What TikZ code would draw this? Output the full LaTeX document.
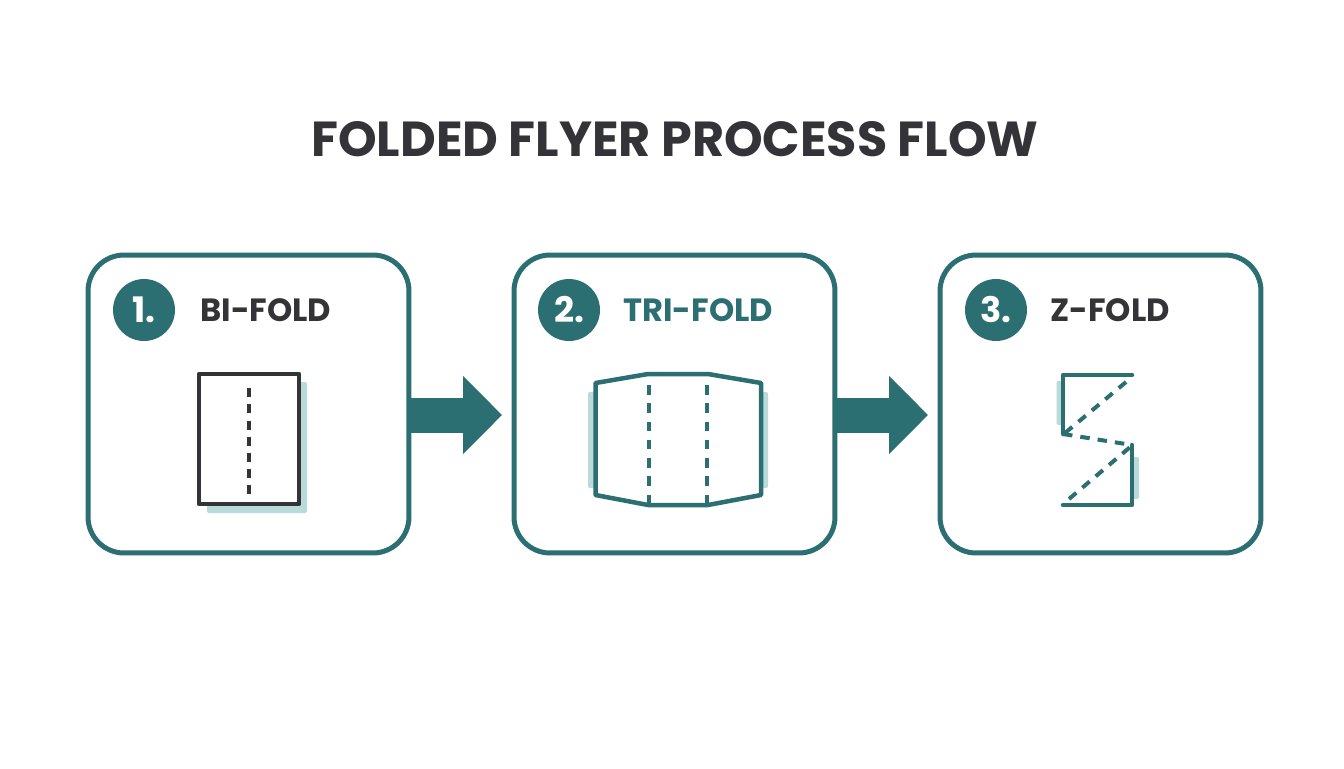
\documentclass[tikz,border=0pt]{standalone}
\usepackage{fontspec}
\setmainfont{Poppins}
\usetikzlibrary{arrows.meta}
\definecolor{tealmain}{HTML}{2C6F72}
\definecolor{tealpale}{HTML}{B9DAD8}
\definecolor{inkdark}{HTML}{333338}
\tikzset{
  cardbox/.style={draw=tealmain,line width=.1cm,rounded corners=.72cm,minimum width=6.42cm,minimum height=5.96cm},
  numdisc/.style={circle,fill=tealmain,text=white,minimum size=1.24cm,inner sep=0pt,font=\fontsize{20}{20}\selectfont\bfseries},
  cardlabel/.style={anchor=west,inner sep=0pt,font=\fontsize{18.3}{22}\selectfont\bfseries},
  flowarrow/.style={tealmain,line width=.7cm,-{Triangle[length=.78cm,width=1.52cm]},shorten >=.19cm},
  foldline/.style={line width=.09cm,line join=round,line cap=round},
  foldcrease/.style={line width=.08cm,dash pattern=on .18cm off .145cm},
  foldshade/.style={fill=tealpale,rounded corners=.04cm}
}
\begin{document}
\begin{tikzpicture}[x=.02cm,y=-.02cm]
        \useasboundingbox[fill=white] (0,0) rectangle (1344,768);
        \node[inkdark,inner sep=0pt,font=\fontsize{28}{32}\selectfont\bfseries] (title) at (675,139) {FOLDED FLYER PROCESS FLOW};
        \node[cardbox] (card1) at (248.5,404) {};
        \node[cardbox] (card2) at (674.5,404) {};
        \node[cardbox] (card3) at (1100.5,404) {};
        \draw[flowarrow] ([yshift=-.22cm]card1.east)--([yshift=-.22cm]card2.west);
        \draw[flowarrow] ([yshift=-.22cm]card2.east)--([yshift=-.22cm]card3.west);
        \node[numdisc] (num1) at (144,310) {1.};
        \node[numdisc] (num2) at (569,310) {2.};
        \node[numdisc] (num3) at (996,310) {3.};
        \node[cardlabel,inkdark] (label1) at (200,310) {BI-FOLD};
        \node[cardlabel,tealmain] (label2) at (623,310) {TRI-FOLD};
        \node[cardlabel,inkdark] (label3) at (1050,310) {Z-FOLD};
        \fill[foldshade] (207,382) rectangle (307,513);
        \draw[foldline,inkdark,fill=white] (199,374) rectangle (299,504);
        \draw[foldcrease,inkdark] (249,388)--(249,495);
        \fill[foldshade] (588,392) rectangle (600,488);
        \fill[foldshade] (756,392) rectangle (768,488);
        \draw[foldline,tealmain,fill=white] (595.5,383)--(648,374)--(708,374)--(761,383)--(761,495)--(708,505)--(648,505)--(595.5,495)--cycle;
        \draw[foldcrease,tealmain,dash pattern=on .19cm off .176cm] (649,385)--(649,504);
        \draw[foldcrease,tealmain,dash pattern=on .19cm off .176cm] (707,385)--(707,504);
        \fill[foldshade] (1056.5,381) rectangle (1063,425);
        \fill[foldshade] (1132,457) rectangle (1139,499);
        \draw[foldline,tealmain] (1132,375)--(1063,375)--(1063,434);
        \draw[foldline,tealmain] (1132,445)--(1132,505)--(1063,505);
        \draw[foldcrease,tealmain,dash pattern=on .19cm off .16cm] (1126,382)--(1065,433);
        \draw[foldcrease,tealmain,dash pattern=on .19cm off .16cm] (1063,434)--(1132,445);
        \draw[foldcrease,tealmain,dash pattern=on .19cm off .16cm] (1129.6,447.5)--(1069,499);
\end{tikzpicture}
\end{document}
